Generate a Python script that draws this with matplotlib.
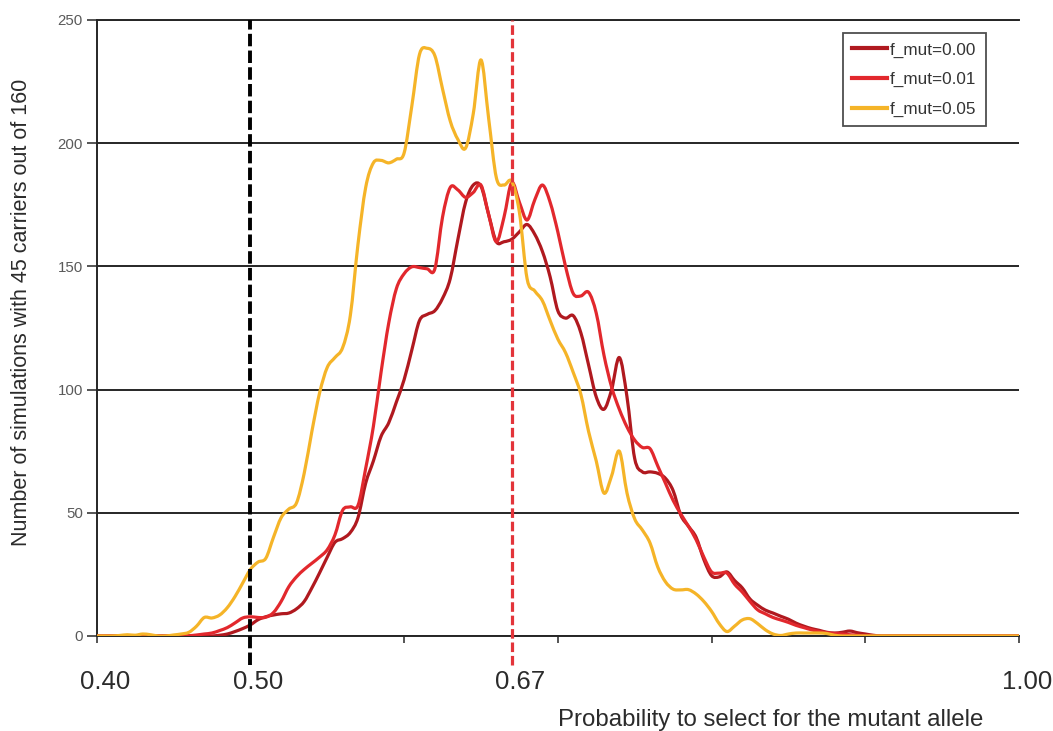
import numpy as np
import matplotlib

matplotlib.use('Agg')
import matplotlib.pyplot as plt
import matplotlib.transforms as mtransforms
from matplotlib.lines import Line2D
from matplotlib.patches import PathPatch
from matplotlib.path import Path

plt.rcParams['font.family'] = ['Liberation Sans', 'DejaVu Sans']

# probability grid, step 0.005 from 0.40 to 1.00
prob = np.round(np.linspace(0.40, 1.00, 121), 3)

f_mut_000 = [
    0, 0, 0, 0, 0, 0, 0, 0, 0, 0, 0, 0, 0, 0, 0,
    0, 0.3, 0.8, 1.8, 3, 4.5, 6.6, 7.8, 8.5, 9, 9.3, 11, 14, 19.5, 25.6,
    32, 38, 39.5, 42, 48, 62, 71, 81, 86.5, 95, 104, 116, 128, 130.5, 132,
    137, 145, 161, 176, 183, 182.5, 171, 160, 160, 161, 164, 167, 163, 156, 145.7,
    132, 129, 130, 123, 110, 97, 92, 100, 113, 97, 72, 66.6, 66.6, 66, 64,
    59, 49, 44.5, 40, 31, 24.5, 24, 26, 22.5, 19.5, 15, 12.5, 10.5, 9.3, 8,
    6.8, 5.2, 4, 3, 2.3, 1.5, 1.2, 1.5, 2, 1.3, 0.8, 0.3,
    0, 0, 0, 0, 0, 0, 0, 0, 0, 0, 0, 0, 0, 0, 0, 0, 0, 0, 0,
]

f_mut_001 = [
    0, 0, 0, 0, 0, 0, 0, 0, 0, 0, 0, 0,
    0.1, 0.4, 0.8, 1.2, 2.2, 3.4, 5.3, 7.3, 7.8, 7.5, 7.6, 9.5, 14, 20,
    24, 27, 29.5, 32, 35, 41, 51, 52.4, 53, 68, 85, 107, 127, 141, 147,
    149.8, 149.5, 149, 149, 170, 182, 181, 178, 180, 183, 171, 160, 170, 184,
    176, 168.8, 177, 183, 176, 164, 150, 139, 138, 139.5, 131, 114, 101, 92,
    84.8, 79.5, 76.5, 76, 69, 62, 55, 49.5, 44.5, 39, 32, 26, 25.5, 25.5,
    21, 17.8, 14, 10.6, 9, 7.5, 6.5, 5.5, 4.3, 3.4, 2.5, 1.8, 1.3, 1, 0.8,
    0.5, 0.3,
    0, 0, 0, 0, 0, 0, 0, 0, 0, 0, 0, 0, 0, 0, 0, 0, 0, 0, 0, 0, 0,
]

f_mut_005 = [
    0, 0, 0, 0.2, 0.5, 0.3, 0.8, 0.5, 0, 0, 0.4, 0.8, 1.5, 4, 7.5,
    7.3, 8.5, 11.5, 16, 21.5, 27, 30, 31.5, 40, 48, 51.5, 54, 66, 83, 98.6,
    109, 113, 117, 130, 159, 182, 192, 193, 192, 193.5, 196, 215, 236, 238.5, 235.5,
    222, 209, 201.5, 198, 212, 233.8, 210, 186, 183, 184.5, 172, 145, 140, 136, 128,
    120.5, 115, 107, 98, 83, 71, 58, 65, 75, 58, 47.5, 43, 37.7, 28, 22,
    19, 18.7, 18.8, 17, 14, 10, 5, 1.8, 4, 6.5, 7, 5, 2.5, 0.8, 0.2,
    0.8, 1.2, 1.2, 1.2, 1.2, 1, 0.3,
    0, 0, 0, 0, 0, 0, 0, 0, 0, 0, 0, 0, 0, 0, 0, 0, 0, 0, 0, 0, 0, 0, 0, 0,
]

series_labels = ['f_mut=0.00', 'f_mut=0.01', 'f_mut=0.05']
series_colors = ['#B0191F', '#E2282D', '#F5B428']

tick_values = [0.40, 0.50, 0.67, 1.00]
tick_labels = ['0.40', '0.50', '0.67', '1.00']
minor_ticks = [0.4, 0.5, 0.6, 0.7, 0.8, 0.9, 1.0]
y_ticks = [0, 50, 100, 150, 200, 250]

neutral_p = 0.50
observed_p = 0.67


def smooth_path(x, y, tension=1.0 / 6):
    # Catmull-Rom style bezier through the points, like a spreadsheet "smoothed line"
    pts = np.column_stack([x, y]).astype(float)
    verts = [pts[0]]
    codes = [Path.MOVETO]
    n = len(pts)
    for i in range(n - 1):
        p0 = pts[i - 1] if i > 0 else pts[i]
        p1 = pts[i]
        p2 = pts[i + 1]
        p3 = pts[i + 2] if i + 2 < n else pts[i + 1]
        verts += [p1 + (p2 - p0) * tension, p2 - (p3 - p1) * tension, p2]
        codes += [Path.CURVE4] * 3
    return Path(verts, codes)


def main():
    fig = plt.figure(figsize=(10.53, 7.31), dpi=100)
    ax = fig.add_axes([0.0918, 0.1300, 0.8759, 0.8427])

    ax.set_xlim(0.40, 1.00)
    ax.set_ylim(0, 250)

    ax.set_yticks(y_ticks)
    ax.yaxis.grid(True, color='#262626', linewidth=1.4)
    ax.set_axisbelow(True)
    ax.tick_params(axis='y', direction='out', length=7, width=1.1,
                   color='#262626', labelsize=10.8, labelcolor='#5a5a5a', pad=3)

    ax.set_xticks(minor_ticks)
    ax.set_xticklabels([])
    ax.tick_params(axis='x', direction='out', length=5, width=1.1, color='#262626')

    ax.spines['right'].set_visible(False)
    for side in ('left', 'bottom', 'top'):
        ax.spines[side].set_color('#262626')
        ax.spines[side].set_linewidth(1.4)

    series = [f_mut_000, f_mut_001, f_mut_005]
    handles = []
    for values, label, color in zip(series, series_labels, series_colors):
        patch = PathPatch(smooth_path(prob, values), facecolor='none',
                          edgecolor=color, linewidth=2.3, capstyle='round',
                          joinstyle='round', zorder=3)
        ax.add_patch(patch)
        handles.append(Line2D([], [], color=color, linewidth=3, label=label))

    ax.axvline(neutral_p, ymin=-0.047, ymax=1, color='black', linewidth=2.8,
               dashes=(3.2, 1.1), clip_on=False, zorder=4)
    ax.axvline(observed_p, ymin=-0.047, ymax=1, color='#E3343A', linewidth=2.3,
               dashes=(3.0, 1.2), clip_on=False, zorder=4)

    # x labels sit a little right of their positions
    base = ax.get_xaxis_transform()
    shifted = mtransforms.offset_copy(base, fig=fig, x=8, y=0, units='dots')
    for val, txt in zip(tick_values, tick_labels):
        ax.text(val, -0.075, txt, transform=shifted, ha='center', va='center',
                fontsize=18.5, color='#2b2b2b')

    leg = ax.legend(handles=handles, loc='upper left',
                    bbox_to_anchor=(0.8006, 0.9549),
                    bbox_transform=fig.transFigure, fontsize=12.3,
                    frameon=True, fancybox=False, handlelength=2.0,
                    handletextpad=0.2, labelspacing=0.85, borderpad=0.55,
                    borderaxespad=0)
    leg.get_frame().set_edgecolor('#222222')
    leg.get_frame().set_linewidth(1.3)
    for t in leg.get_texts():
        t.set_color('#333333')

    fig.text(22 / 1053, 1 - 312 / 731,
             'Number of simulations with 45 carriers out of 160',
             rotation=90, ha='center', va='center', fontsize=15.5,
             color='#2b2b2b')
    fig.text(558 / 1053, 1 - 720 / 731,
             'Probability to select for the mutant allele',
             ha='left', va='center', fontsize=17.3, color='#2b2b2b')

    fig.savefig('out.png', dpi=100)
    plt.close(fig)


if __name__ == '__main__':
    main()
